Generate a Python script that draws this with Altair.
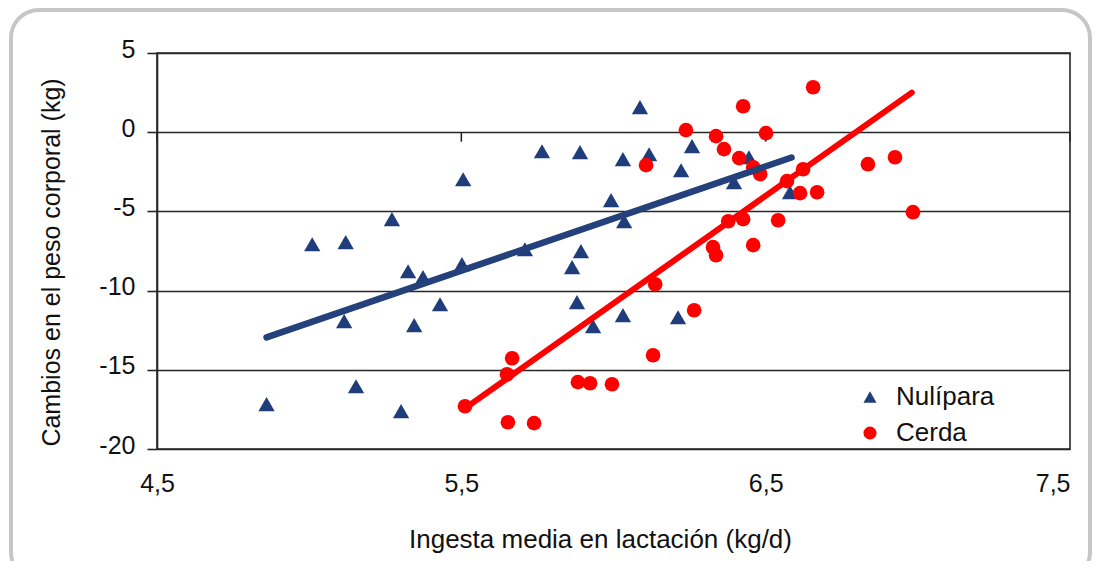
import altair as alt
import pandas as pd

# ---- data ----
groups = ["Nulípara", "Cerda"]
colors = ["#1f3d7a", "#ff0000"]
shapes = ["triangle-up", "circle"]

nul_x = [4.86, 5.01, 5.12, 5.115, 5.154, 5.272, 5.302, 5.325, 5.345, 5.374, 5.43,
         5.506, 5.502, 5.709, 5.765, 5.89, 5.864, 5.893, 5.88, 5.933, 5.992, 6.031,
         6.035, 6.031, 6.087, 6.117, 6.222, 6.212, 6.258, 6.396, 6.445, 6.58]
nul_y = [-17.17, -7.07, -6.94, -11.93, -16.04, -5.49, -17.61, -8.78, -12.18, -9.15, -10.86,
         -2.97, -8.33, -7.39, -1.20, -1.26, -8.52, -7.51, -10.73, -12.25, -4.29, -1.70,
         -5.62, -11.55, 1.58, -1.39, -2.40, -11.68, -0.88, -3.16, -1.58, -3.79]

cer_x = [6.238, 6.337, 6.363, 6.413, 6.426, 6.459, 6.482, 6.501, 6.107, 6.656, 6.570,
         6.623, 6.613, 6.669, 6.836, 6.925, 6.984, 6.541, 6.426, 6.377, 6.459, 6.327,
         6.337, 6.137, 6.265, 6.13, 5.995, 5.923, 5.883, 5.667, 5.650, 5.512, 5.653, 5.739]
cer_y = [0.13, -0.25, -1.07, -1.64, 1.64, -2.21, -2.65, -0.06, -2.08, 2.84, -3.09,
         -2.34, -3.85, -3.79, -2.02, -1.58, -5.05, -5.56, -5.49, -5.62, -7.13, -7.26,
         -7.77, -9.60, -11.24, -14.08, -15.91, -15.85, -15.78, -14.27, -15.28, -17.30, -18.31, -18.37]

nul_line_x = [4.86, 6.585]
nul_line_y = [-12.95, -1.6]
cer_line_x = [5.507, 6.98]
cer_line_y = [-17.5, 2.5]

x_ticks = [4.5, 5.5, 6.5, 7.5]
y_ticks = [-20, -15, -10, -5, 0, 5]

x_title = "Ingesta media en lactación (kg/d)"
y_title = "Cambios en el peso corporal (kg)"

FONT = "Liberation Sans"
FS = 25
FSX = 26
DARK = "#262626"
TXT = "#111111"

points = pd.DataFrame({
    "x": nul_x + cer_x,
    "y": nul_y + cer_y,
    "g": [groups[0]] * len(nul_x) + [groups[1]] * len(cer_x),
})
nul_line = pd.DataFrame({"x": nul_line_x, "y": nul_line_y})
cer_line = pd.DataFrame({"x": cer_line_x, "y": cer_line_y})
ticks_df = pd.DataFrame({"x": x_ticks})

xscale = alt.Scale(domain=[4.5, 7.5], nice=False, zero=False)
yscale = alt.Scale(domain=[-20, 5], nice=False, zero=False)

x_axis = alt.Axis(
    values=x_ticks,
    labelExpr="replace(format(datum.value, '.1f'), '.', ',')",
    labelAlign=alt.expr("datum.value >= 7.5 ? 'right' : 'center'"),
    grid=False, ticks=False, domain=False,
    labelPadding=22, labelFontSize=FS, labelFont=FONT, labelColor=TXT,
    title=x_title, titleFontSize=FSX, titleFont=FONT, titleFontWeight="normal",
    titleColor=TXT, titleX=443, titleY=98, titleBaseline="alphabetic",
)
y_axis = alt.Axis(
    values=y_ticks,
    labelExpr="'' + datum.value",
    grid=True, gridColor=DARK, gridWidth=1.6, gridOpacity=1,
    ticks=True, tickSize=10, tickColor=DARK, tickWidth=1.6,
    domain=True, domainColor=DARK, domainWidth=1.6,
    labelPadding=12, labelFontSize=FS, labelFont=FONT, labelColor=TXT,
    labelOffset=-4,
    title=y_title, titleFontSize=FS, titleFont=FONT, titleFontWeight="normal",
    titleColor=TXT, titleAngle=270, titleX=-98, titleY=209,
    titleAlign="center", titleBaseline="alphabetic",
)

legend = alt.Legend(title=None, orient="none", legendX=700, legendY=331,
                    labelFont=FONT, labelFontSize=FSX, labelColor=TXT,
                    symbolSize=170, labelOffset=13, rowPadding=10,
                    padding=0, symbolOpacity=1)

border = alt.Chart(pd.DataFrame({"a": [0]})).mark_rect(
    cornerRadius=28, fillOpacity=0, stroke="#c6c6c6", strokeWidth=4
).encode(
    x=alt.value(-146), x2=alt.value(933), y=alt.value(-43), y2=alt.value(527)
)

pts = alt.Chart(points).mark_point(filled=True, opacity=1).encode(
    x=alt.X("x:Q", scale=xscale, axis=x_axis),
    y=alt.Y("y:Q", scale=yscale, axis=y_axis),
    color=alt.Color("g:N", scale=alt.Scale(domain=groups, range=colors), legend=legend),
    shape=alt.Shape("g:N", scale=alt.Scale(domain=groups, range=shapes), legend=legend),
    size=alt.condition("datum.g == 'Cerda'", alt.value(215), alt.value(265)),
)

axis_ticks = alt.Chart(ticks_df).mark_rule(color=DARK, strokeWidth=1.6).encode(
    x=alt.X("x:Q", scale=xscale),
    y=alt.datum(0),
    y2=alt.datum(-0.6),
)

l1 = alt.Chart(nul_line).mark_line(color="#24417b", strokeWidth=6.5, strokeCap="round").encode(
    x=alt.X("x:Q", scale=xscale), y=alt.Y("y:Q", scale=yscale)
)
l2 = alt.Chart(cer_line).mark_line(color="#ff0000", strokeWidth=6, strokeCap="round").encode(
    x=alt.X("x:Q", scale=xscale), y=alt.Y("y:Q", scale=yscale)
)

chart = alt.layer(border, axis_ticks, pts, l1, l2).properties(
    width=913, height=396,
    autosize=alt.AutoSizeParams(type="none"),
    padding={"left": 149, "top": 45, "right": 23, "bottom": 112},
    background="white",
).configure_view(
    stroke=DARK, strokeWidth=1.6
)

chart.save("out.html", embed_options={"renderer": "svg", "actions": False})
